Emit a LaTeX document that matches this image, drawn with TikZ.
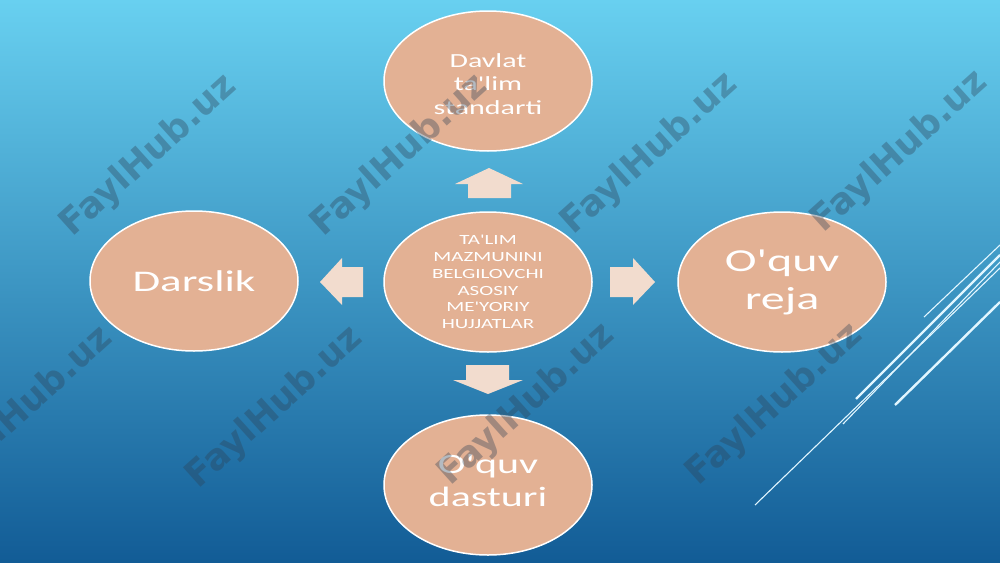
\documentclass[tikz,border=0pt]{standalone}
\usepackage{fontspec}
\setmainfont{Carlito}
\newfontfamily\widefont[FakeStretch=1.5]{Carlito}
\newfontfamily\wmfont{DejaVu Sans}
\usetikzlibrary{shapes.geometric}
\definecolor{bgtop}{RGB}{104,208,240}
\definecolor{bgmid}{RGB}{52,152,202}
\definecolor{bgbot}{RGB}{18,92,150}
\definecolor{circfill}{RGB}{227,177,148}
\definecolor{arrfill}{RGB}{242,220,206}
\definecolor{wmcol}{RGB}{45,65,85}
\definecolor{linecol}{RGB}{225,246,255}
\tikzset{
  topic/.style={ellipse, draw=white, line width=1.5pt, fill=circfill,
    minimum width=208pt, minimum height=140pt, inner sep=0pt,
    align=center, text=white},
  label text/.style={align=center, text=white, inner sep=0pt},
  blockarrow/.style={fill=arrfill, draw=none},
  wmark/.style={rotate=42, text=wmcol, text opacity=0.36,
    font=\wmfont\bfseries\fontsize{36}{42}\selectfont},
  thinline/.style={draw=linecol, line width=1.1pt},
  thickline/.style={draw=linecol, line width=2.4pt}
}
\begin{document}
\begin{tikzpicture}[x=1pt,y=-1pt]
\useasboundingbox (0,0) rectangle (1000,562);
\shade[top color=bgtop, middle color=bgmid, bottom color=bgbot] (0,0) rectangle (1000,562);

% diagonal decoration lines
\draw[thinline] (924,317) -- (1000,245);
\draw[thickline] (856,399) -- (1000,255);
\draw[thinline] (843,424) -- (1000,262);
\draw[thinline] (755,505) -- (1000,268);
\draw[thickline] (895,405) -- (1000,302);

% topics
\node[topic, font=\widefont\fontsize{14}{16.7}\selectfont] (center) at (488,282)
  {TA'LIM\\MAZMUNINI\\BELGILOVCHI\\ASOSIY\\ME'YORIY\\HUJJATLAR};
\node[topic] (top) at (488,81) {};
\node[label text, font=\widefont\fontsize{20}{23.5}\selectfont]
  (toptext) at ([yshift=-3pt]top.center) {Davlat\\ta'lim\\standarti};
\node[topic, font=\widefont\fontsize{30}{36}\selectfont] (left) at (194,281)
  {Darslik};
\node[topic, font=\widefont\fontsize{32}{38}\selectfont] (right) at (782,282)
  {O'quv\\reja};
\node[topic] (bottom) at (488,485) {};
\node[label text, font=\widefont\fontsize{28}{33}\selectfont]
  (bottomtext) at ([yshift=4pt]bottom.center) {O'quv\\dasturi};

% block arrows
\fill[blockarrow] (489,168) -- (523,184) -- (511,184) -- (511,198) -- (468,198) -- (468,184) -- (455,184) -- cycle;
\fill[blockarrow] (466,365) -- (509,365) -- (509,380) -- (523,380) -- (488,394) -- (453,380) -- (466,380) -- cycle;
\fill[blockarrow] (320,282) -- (342,258) -- (342,267) -- (363,267) -- (363,297) -- (342,297) -- (342,305) -- cycle;
\fill[blockarrow] (610,267) -- (633,267) -- (633,258) -- (655,282) -- (633,305) -- (633,297) -- (610,297) -- cycle;

% watermarks
\foreach \wx/\wy [count=\i] in {149/156, 400/156, 650/154, 900/152, 25/408, 275/408, 527/405, 775/405}
  \node[wmark] (wm\i) at (\wx,\wy) {FaylHub.uz};
\end{tikzpicture}
\end{document}
